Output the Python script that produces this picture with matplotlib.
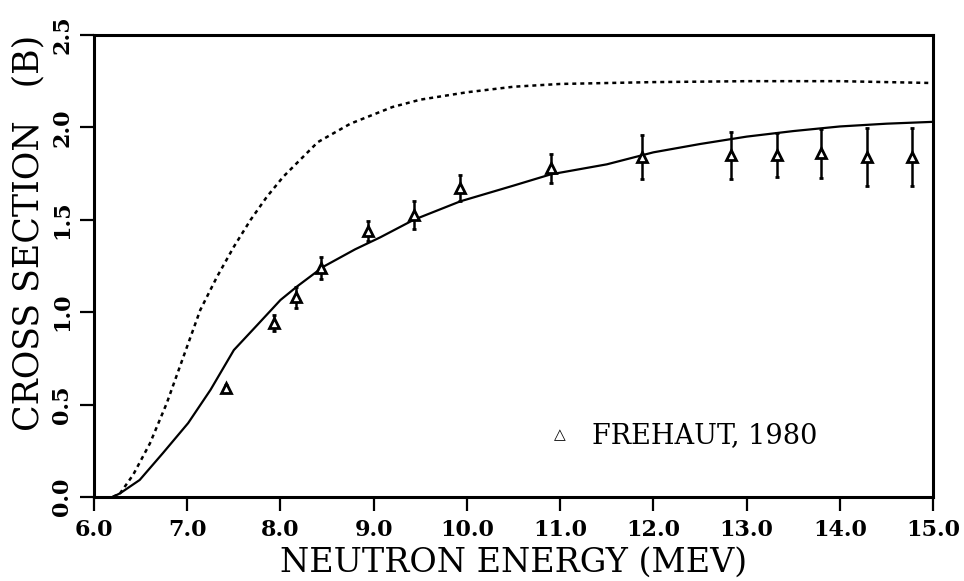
import matplotlib.pyplot as plt
from matplotlib.ticker import MultipleLocator

# calculated cross section (solid) and comparison curve (dotted)
calc_energy = [6.2, 6.28, 6.49, 6.74, 7.01, 7.25, 7.5, 7.75, 8.0, 8.18, 8.46, 8.8, 9.07, 9.43,
               9.93, 10.5, 10.9, 11.5, 12.0, 12.5, 13.0, 13.5, 14.0, 14.5, 15.0]
calc_sigma = [0.0, 0.02, 0.092, 0.238, 0.40, 0.58, 0.795, 0.93, 1.066, 1.14, 1.246, 1.34, 1.405, 1.50,
              1.60, 1.685, 1.746, 1.80, 1.865, 1.91, 1.95, 1.98, 2.005, 2.02, 2.03]

alt_energy = [6.2, 6.28, 6.42, 6.60, 6.78, 6.96, 7.14, 7.32, 7.50, 7.68, 7.855, 8.03, 8.21,
              8.4, 8.75, 9.2, 9.5, 10.0, 10.5, 11.0, 12.0, 13.0, 14.0, 15.0]
alt_sigma = [0.0, 0.02, 0.12, 0.29, 0.507, 0.76, 1.012, 1.192, 1.354, 1.50, 1.625, 1.733, 1.824,
             1.92, 2.02, 2.11, 2.15, 2.19, 2.22, 2.235, 2.245, 2.25, 2.25, 2.24]

# Frehaut 1980 measurements
exp_energy = [7.42, 7.93, 8.17, 8.44, 8.94, 9.43, 9.93, 10.90, 11.88, 12.83, 13.32, 13.80, 14.29, 14.77]
exp_sigma = [0.59, 0.94, 1.08, 1.24, 1.44, 1.525, 1.67, 1.778, 1.84, 1.85, 1.85, 1.86, 1.84, 1.84]
exp_err = [0.015, 0.043, 0.058, 0.06, 0.055, 0.075, 0.07, 0.078, 0.12, 0.127, 0.12, 0.133, 0.155, 0.155]

plt.rcParams['font.family'] = ['DejaVu Serif']

figure, axes = plt.subplots(figsize=(9.64, 5.81), dpi=100)
figure.subplots_adjust(left=0.0975, right=0.968, bottom=0.1446, top=0.9398)

axes.plot(calc_energy, calc_sigma, color='black', linewidth=1.6)
axes.plot(alt_energy, alt_sigma, color='black', linewidth=1.8, linestyle=(0, (1.6, 1.6)))

axes.errorbar(exp_energy, exp_sigma, yerr=exp_err, fmt='^', color='black',
              markersize=7.5, markerfacecolor='white', markeredgewidth=2.0,
              elinewidth=1.8, capsize=1.5, capthick=1.8)

# legend entry drawn as plain text inside the axes
axes.text(0.555, 0.134, '\u25b3', transform=axes.transAxes, fontsize=11,
          family=['DejaVu Sans'], ha='center', va='center')
axes.text(0.594, 0.134, 'FREHAUT, 1980', transform=axes.transAxes, fontsize=19.5,
          ha='left', va='center')

axes.set_xlim(6.0, 15.0)
axes.set_ylim(0.0, 2.5)
axes.xaxis.set_major_locator(MultipleLocator(1.0))
axes.yaxis.set_major_locator(MultipleLocator(0.5))
axes.xaxis.set_major_formatter(lambda v, p: f"{v:.1f}")
axes.yaxis.set_major_formatter(lambda v, p: f"{v:.1f}")

for spine in axes.spines.values():
    spine.set_linewidth(2.2)

axes.tick_params(direction='out', length=10, width=1.6, labelsize=16)
axes.tick_params(axis='x', pad=6)
axes.tick_params(axis='y', pad=5)
for label in axes.get_xticklabels():
    label.set_fontweight('bold')
for label in axes.get_yticklabels():
    label.set_fontweight('bold')
    label.set_rotation(90)
    label.set_va('center')

axes.set_xlabel('NEUTRON ENERGY (MEV)', fontsize=24)
axes.set_ylabel('CROSS SECTION   (B)', fontsize=25)
axes.xaxis.set_label_coords(0.5, -0.108)
axes.yaxis.set_label_coords(-0.058, 0.571)

figure.savefig('out.png', dpi=100)
